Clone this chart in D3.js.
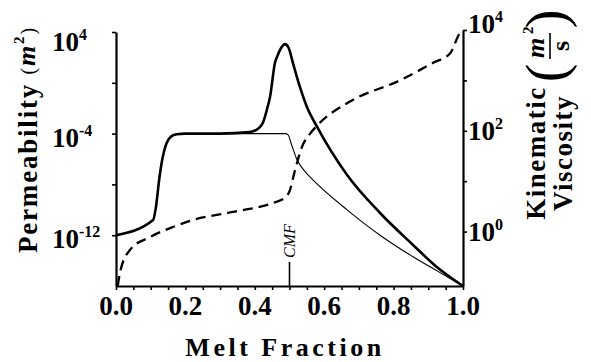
<!DOCTYPE html>
<html>
<head>
<meta charset="utf-8">
<script src="https://cdn.jsdelivr.net/npm/d3@7"></script>
<style>
  body { margin: 0; background: #fff; }
  text { font-family: "Liberation Serif", "DejaVu Serif", serif; fill: #000; }
</style>
</head>
<body>
<div id="chart"></div>
<script>
const width = 591
const height = 362

// melt fraction / permeability (m^2), thick curve
const permThickX = [0.0, 0.107, 0.115, 0.125, 0.135, 0.145, 0.16, 0.175, 0.2, 0.3, 0.385, 0.41, 0.424, 0.435, 0.444, 0.458, 0.466, 0.475, 0.487, 0.497, 0.51, 0.53, 0.55, 0.58, 0.666, 0.761, 0.856, 0.92, 1.0]
const permThickY = [1e-12, 1.6e-11, 1.6e-10, 3.2e-8, 1.6e-6, 1.6e-5, 6.3e-5, 8.9e-5, 1e-4, 1e-4, 1.3e-4, 2.5e-4, 7.9e-4, 7.9e-3, 7.9e-2, 36, 150, 500, 1100, 600, 36, 0.47, 1.3e-2, 3.2e-4, 5.5e-8, 5.6e-11, 1.7e-13, 4e-15, 1e-16]

// thin curve (same until the CMF)
const permThinX = [0.0, 0.107, 0.115, 0.125, 0.135, 0.145, 0.16, 0.175, 0.2, 0.3, 0.4, 0.488, 0.496, 0.505, 0.522, 0.545, 0.568, 0.666, 0.761, 0.856, 0.93, 1.0]
const permThinY = [1e-12, 1.6e-11, 1.6e-10, 3.2e-8, 1.6e-6, 1.6e-5, 6.3e-5, 8.9e-5, 1e-4, 1e-4, 1e-4, 1e-4, 8e-5, 1.6e-5, 8.3e-7, 1e-7, 2.2e-8, 1e-10, 1e-12, 2e-14, 1.3e-15, 1e-16]

// kinematic viscosity (m^2/s), dashed
const viscX = [0.005, 0.012, 0.04, 0.098, 0.164, 0.222, 0.337, 0.452, 0.487, 0.5, 0.516, 0.536, 0.56, 0.579, 0.674, 0.818, 0.914, 0.963, 0.991, 1.0]
const viscY = [0.083, 0.16, 0.43, 0.78, 1.23, 1.7, 2.45, 3.7, 4.7, 6.3, 16.6, 48, 89, 126, 380, 1000, 2240, 3470, 8700, 1e4]

const leftTicks = [1e4, 1, 1e-4, 1e-8, 1e-12]
const leftLabels = [[1e4, "4"], [1e-4, "-4"], [1e-12, "-12"]]
const rightTicks = [1e4, 1e3, 1e2, 1e1, 1e0]
const rightLabels = [[1e4, "4"], [1e2, "2"], [1e0, "0"]]
const xLabels = [0, 0.2, 0.4, 0.6, 0.8, 1.0]
const cmf = 0.5

const plotLeft = 116, plotRight = 463, plotTop = 32, plotBottom = 286

const svg = d3.select("#chart").append("svg")
    .attr("width", width)
    .attr("height", height)
    .style("background", "#fff")

const x = d3.scaleLinear().domain([0, 1]).range([plotLeft, plotRight])
const yL = d3.scaleLog().domain([1e-16, 1e4]).range([plotBottom, plotTop])
const yR = d3.scaleLog().domain([Math.pow(10, -1.08), 1e4]).range([plotBottom, 30])

// curves
const zip = (xs, ys) => xs.map((d, i) => [d, ys[i]])

const lineL = d3.line().x(d => x(d[0])).y(d => yL(d[1])).curve(d3.curveMonotoneX)
const lineR = d3.line().x(d => x(d[0])).y(d => yR(d[1])).curve(d3.curveMonotoneX)

svg.append("path")
    .attr("d", lineR(zip(viscX, viscY)))
    .attr("fill", "none")
    .attr("stroke", "#000")
    .attr("stroke-width", 2.3)
    .attr("stroke-dasharray", "10,6")

svg.append("path")
    .attr("d", lineL(zip(permThinX, permThinY)))
    .attr("fill", "none")
    .attr("stroke", "#000")
    .attr("stroke-width", 1.1)

svg.append("path")
    .attr("d", lineL(zip(permThickX, permThickY)))
    .attr("fill", "none")
    .attr("stroke", "#000")
    .attr("stroke-width", 2.6)

// axes
const styleAxis = g => {
    g.select(".domain").attr("stroke-width", 2.2)
    g.selectAll(".tick line").attr("stroke-width", 1.6)
}

svg.append("g")
    .attr("transform", `translate(0,${plotBottom})`)
    .call(d3.axisBottom(x).tickValues(d3.range(0, 21).map(i => i / 20)).tickSize(4).tickSizeOuter(0).tickFormat(""))
    .call(styleAxis)

svg.append("g")
    .attr("transform", `translate(${plotLeft},0)`)
    .call(d3.axisLeft(yL).tickValues(leftTicks).tickSize(4).tickSizeOuter(0).tickFormat(""))
    .call(styleAxis)

svg.append("g")
    .attr("transform", `translate(${plotRight},0)`)
    .call(d3.axisRight(yR).tickValues(rightTicks).tickSize(4).tickSizeOuter(0).tickFormat(""))
    .call(styleAxis)

// tick labels
function powLabel(sel, exp) {
    sel.append("tspan").text("10")
    sel.append("tspan").attr("dy", -11).attr("font-size", 16).text(exp)
}

svg.selectAll(".lab-l")
    .data(leftLabels)
    .join("text")
    .attr("class", "lab-l")
    .attr("x", 52)
    .attr("y", d => yL(d[0]) + (d[0] === 1e4 ? 19 : 13))
    .attr("font-size", 27)
    .attr("font-weight", "bold")
    .each(function (d) { powLabel(d3.select(this), d[1]) })

svg.selectAll(".lab-r")
    .data(rightLabels)
    .join("text")
    .attr("class", "lab-r")
    .attr("x", 468)
    .attr("y", d => yR(d[0]) + (d[0] === 1e4 ? 3 : 9))
    .attr("font-size", 27)
    .attr("font-weight", "bold")
    .each(function (d) { powLabel(d3.select(this), d[1]) })

svg.selectAll(".lab-x")
    .data(xLabels)
    .join("text")
    .attr("class", "lab-x")
    .attr("x", d => x(d))
    .attr("y", 315)
    .attr("text-anchor", "middle")
    .attr("font-size", 27)
    .attr("font-weight", "bold")
    .text(d => d.toFixed(1))

// CMF marker
svg.append("line")
    .attr("x1", x(cmf)).attr("x2", x(cmf))
    .attr("y1", plotBottom).attr("y2", 262)
    .attr("stroke", "#000")
    .attr("stroke-width", 1.6)

svg.append("text")
    .attr("transform", `translate(${x(cmf) + 5},258) rotate(-90)`)
    .attr("font-size", 16)
    .attr("font-style", "italic")
    .text("CMF")

// axis titles
svg.append("text")
    .attr("x", 285)
    .attr("y", 356)
    .attr("text-anchor", "middle")
    .attr("font-size", 26)
    .attr("font-weight", "bold")
    .attr("letter-spacing", 3.5)
    .text("Melt Fraction")

const permTitle = svg.append("text")
    .attr("transform", "translate(37,253) rotate(-90)")
    .attr("font-size", 27)
    .attr("font-weight", "bold")
    .attr("letter-spacing", 1.8)
permTitle.append("tspan").text("Permeability ")
permTitle.append("tspan").attr("font-weight", "normal").attr("font-size", 20).attr("dy", -2).text("(")
permTitle.append("tspan").attr("font-style", "italic").attr("font-size", 26).text("m")
permTitle.append("tspan").attr("font-size", 15).attr("dy", -11).text("2")
permTitle.append("tspan").attr("font-weight", "normal").attr("font-size", 20).attr("dy", 11).text(")")

svg.append("text")
    .attr("transform", "translate(545,153) rotate(-90)")
    .attr("text-anchor", "middle")
    .attr("font-size", 27)
    .attr("font-weight", "bold")
    .attr("letter-spacing", 1.5)
    .text("Kinematic")

svg.append("text")
    .attr("transform", "translate(572,153) rotate(-90)")
    .attr("text-anchor", "middle")
    .attr("font-size", 27)
    .attr("font-weight", "bold")
    .attr("letter-spacing", 1.5)
    .text("Viscosity")

// (m^2 / s) fraction, rotated
const frac = svg.append("g").attr("transform", "translate(549,46) rotate(-90)")
frac.append("text")
    .attr("x", -2).attr("y", -5)
    .attr("text-anchor", "middle")
    .attr("font-size", 26)
    .attr("font-style", "italic")
    .attr("font-weight", "bold")
    .text("m")
frac.append("text")
    .attr("x", 12).attr("y", -16)
    .attr("font-size", 15)
    .attr("font-weight", "bold")
    .text("2")
frac.append("line")
    .attr("x1", -13).attr("x2", 13)
    .attr("y1", 1).attr("y2", 1)
    .attr("stroke", "#000").attr("stroke-width", 1.6)
frac.append("text")
    .attr("x", 0).attr("y", 20)
    .attr("text-anchor", "middle")
    .attr("font-size", 26)
    .attr("font-weight", "bold")
    .text("s")
frac.append("text")
    .attr("x", -27).attr("y", 16)
    .attr("text-anchor", "middle")
    .attr("font-size", 56)
    .attr("fill", "#555")
    .text("(")
frac.append("text")
    .attr("x", 27).attr("y", 16)
    .attr("text-anchor", "middle")
    .attr("font-size", 56)
    .attr("fill", "#555")
    .text(")")
</script>
</body>
</html>
